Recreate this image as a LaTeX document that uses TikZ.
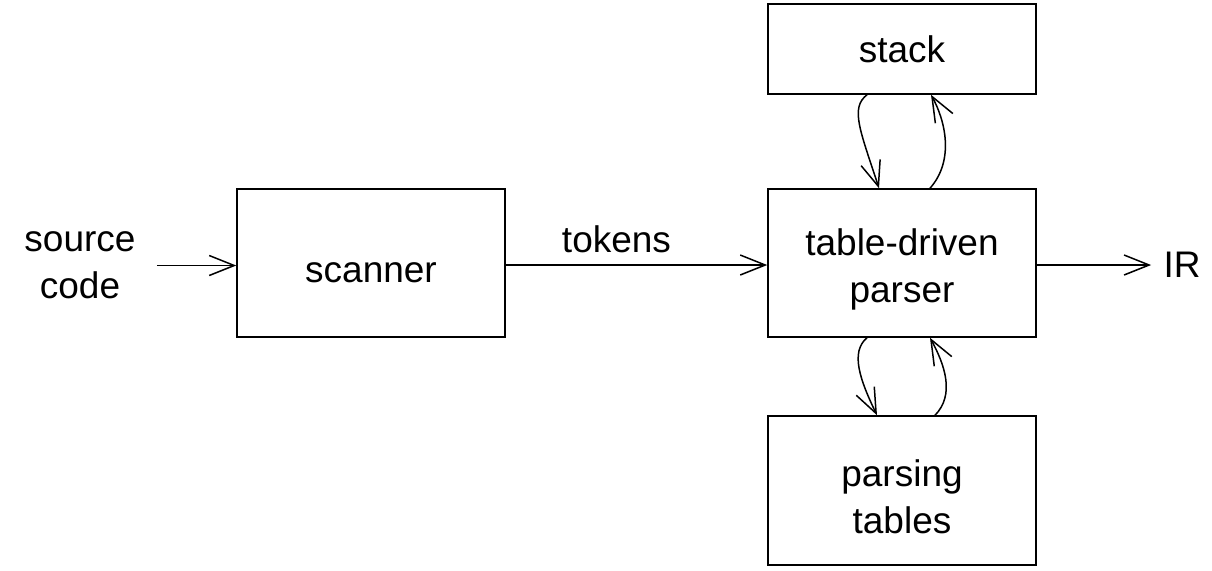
\documentclass[tikz,border=0pt]{standalone}
\usepackage{fontspec}
\setmainfont{Liberation Sans}
\usetikzlibrary{arrows.meta}
\newcommand{\boxstrut}{\rule{0pt}{20pt}}

\begin{document}
\begin{tikzpicture}[
  x=0.5pt, y=-0.5pt,
  font=\fontsize{18.5}{23.5}\selectfont,
  block_box/.style={draw, line width=0.75pt, rectangle, minimum width=134pt, inner sep=0pt, align=center},
  plain_text/.style={inner sep=3pt, align=center},
  conn_arrow/.style={line width=0.75pt, -{Straight Barb[length=12.5pt, width=10pt, line width=0.75pt]}},
]
\useasboundingbox (0,0) rectangle (1212,570);
\draw (80,265.5) node (src) [plain_text] {source\\code};
\draw (371,263) node (scan) [block_box, minimum height=74pt] {\boxstrut scanner};
\draw (902,263) node (parse) [block_box, minimum height=74pt] {\boxstrut table-driven\\parser};
\draw (902,49) node (stack) [block_box, minimum height=45pt] {stack};
\draw (902,490.5) node (tab) [block_box, minimum height=74.5pt] {\boxstrut parsing\\tables};
\draw (1182,265) node (ir) [plain_text] {IR};
\draw[conn_arrow, shorten <=7.5pt] (src.east) -- (src.east -| scan.west);
\draw[conn_arrow] ([yshift=-1pt]scan.east) -- node (tok) [plain_text, above, xshift=-10pt, yshift=2.5pt] {tokens} ([yshift=-1pt]parse.west);
\draw[conn_arrow, shorten >=3pt] ([yshift=-1pt]parse.east) -- (ir.west);
% stack <-> parser
\draw[conn_arrow] ([xshift=-17.5pt]stack.south) .. controls (850,108) and (860,130) .. ([xshift=-11.5pt]parse.north);
\draw[conn_arrow] ([xshift=14pt]parse.north) .. controls (955,160) and (945,120) .. ([xshift=14.5pt]stack.south);
% parser <-> tables
\draw[conn_arrow] ([xshift=-17.5pt]parse.south) .. controls (850,352) and (860,380) .. ([xshift=-12.5pt]tab.north);
\draw[conn_arrow] ([xshift=16.5pt]tab.north) .. controls (955,395) and (945,365) .. ([xshift=14pt]parse.south);
\end{tikzpicture}
\end{document}
